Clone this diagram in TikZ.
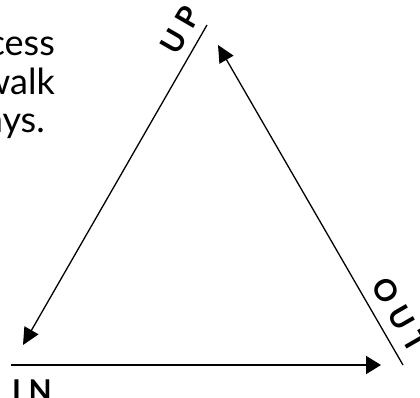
\documentclass[tikz,border=0pt]{standalone}
\usepackage{fontspec}
\setmainfont{Lato}
\usetikzlibrary{arrows.meta,positioning,calc}
\tikzset{
    side/.style = {line width=1.3pt, -{Triangle[length=17pt,width=16pt]}},
    base/.style = {line width=2pt, -{Triangle[length=15pt,width=18pt]}},
    word/.style = {font=\fontsize{30}{30}\selectfont\bfseries\addfontfeatures{LetterSpace=25}, inner sep=0pt},
    prose/.style = {font=\fontsize{36}{36}\selectfont, inner sep=0pt},
}

\begin{document}
\begin{tikzpicture}[x=1pt, y=-1pt]
    \useasboundingbox (0,0) rectangle (420,398);

    % Cut-off text, top left
    \node[prose, anchor=base east] (lineA) at (55,56) {cess};
    \node[prose, anchor=base east] (lineB) at (55,95) {walk};
    \node[prose, anchor=base east] (lineC) at (45,133) {ays.};

    % Corners of the cycle
    \coordinate (inStart) at (11,365);
    \coordinate (inEnd) at (381,365);
    \coordinate (upTop) at (207,25);
    \coordinate (upEnd) at (23,345);
    \coordinate (outBot) at (403,365);
    \coordinate (outEnd) at (218,45);

    % Labels
    \node[word, rotate=60] (up) at (180,30) {UP};
    \node[word, rotate=-60] (out) at (400,315) {OUT};
    \node[word, anchor=north west] (in) at (12,380) {IN};

    % Connections
    \draw[base] (inStart) -- (inEnd);
    \draw[side] (upTop) -- (upEnd);
    \draw[side] (outBot) -- (outEnd);
\end{tikzpicture}
\end{document}
